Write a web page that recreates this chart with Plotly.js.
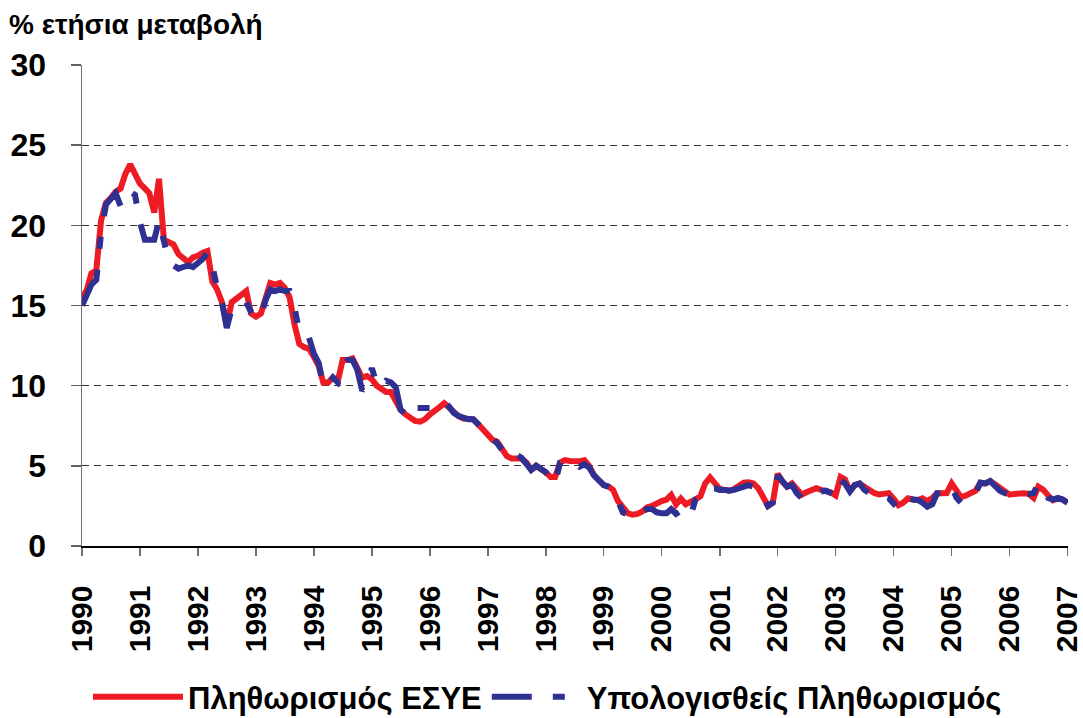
<!DOCTYPE html>
<html>
<head>
<meta charset="utf-8">
<script src="https://cdn.plot.ly/plotly-3.0.1.min.js"></script>
<style>
  html, body { margin: 0; padding: 0; background: #ffffff; }
  #chart { width: 1083px; height: 718px; }
</style>
</head>
<body>
<div id="chart"></div>
<script>
// Monthly series, January 1990 to January 2007 (205 months)
const startYear = 1990;
const monthCount = 205;

// Πληθωρισμός ΕΣΥΕ (% annual change)
const inflationESYE = [
  15.4, 16.0, 17.0, 17.2, 20.3, 21.4, 21.7, 22.1, 22.3, 23.2, 23.8, 23.2,   // 1990
  22.6, 22.3, 22.0, 20.8, 22.9, 19.1, 18.9, 18.8, 18.2, 18.0, 17.7, 18.0,   // 1991
  18.1, 18.3, 18.4, 16.5, 16.0, 15.2, 13.8, 15.2, 15.4, 15.7, 15.9, 14.5,   // 1992
  14.3, 14.5, 15.5, 16.4, 16.3, 16.4, 16.1, 15.5, 13.8, 12.6, 12.4, 12.3,   // 1993
  11.8, 11.2, 10.2, 10.2, 10.5, 10.3, 11.6, 11.6, 11.7, 11.2, 10.5, 10.6,   // 1994
  10.4, 10.0, 9.8, 9.6, 9.6, 9.1, 8.5, 8.2, 8.0, 7.8, 7.75, 7.9,            // 1995
  8.2, 8.4, 8.65, 8.9, 8.6, 8.3, 8.1, 7.95, 7.9, 7.9, 7.6, 7.3,             // 1996
  6.9, 6.6, 6.5, 5.95, 5.6, 5.45, 5.47, 5.45, 5.2, 4.75, 5.0, 4.85,         // 1997
  4.6, 4.3, 4.3, 5.2, 5.36, 5.3, 5.25, 5.28, 5.36, 5.0, 4.4, 4.1,           // 1998
  3.8, 3.7, 3.5, 2.8, 2.35, 2.05, 1.95, 2.0, 2.15, 2.4, 2.5, 2.7,           // 1999
  2.8, 2.9, 3.18, 2.6, 2.95, 2.6, 2.7, 2.9, 3.1, 3.9, 4.28, 3.85,           // 2000
  3.55, 3.5, 3.45, 3.55, 3.8, 3.95, 3.97, 3.9, 3.6, 3.05, 2.5, 2.7,         // 2001
  4.5, 4.0, 3.7, 3.9, 3.6, 3.2, 3.35, 3.45, 3.6, 3.5, 3.45, 3.35,           // 2002
  3.15, 4.3, 4.15, 3.4, 3.8, 3.9, 3.7, 3.45, 3.3, 3.22, 3.3, 3.3,           // 2003
  2.95, 2.55, 2.7, 2.97, 2.9, 2.87, 2.97, 2.8, 3.0, 3.29, 3.29, 3.3,        // 2004
  3.9, 3.5, 3.05, 3.15, 3.3, 3.45, 3.95, 3.9, 4.05, 3.85, 3.65, 3.4,        // 2005
  3.2, 3.25, 3.29, 3.29, 3.25, 3.0, 3.7, 3.5, 3.15, 2.85, 2.97, 2.9,        // 2006
  2.7                                                                       // 2007
];

// Υπολογισθείς Πληθωρισμός (% annual change)
const inflationEstimated = [
  15.0, 15.6, 16.3, 16.6, 19.5, 21.3, 21.6, 22.0, 21.2, 21.9, 22.1, 21.9,   // 1990
  20.2, 19.1, 19.1, 19.1, 20.3, 19.0, 17.8, 17.5, 17.3, 17.4, 17.5, 17.4,   // 1991
  17.6, 17.9, 18.3, 17.5, 16.1, 15.2, 13.6, 14.8, 14.9, 15.1, 15.2, 14.6,   // 1992
  14.2, 14.3, 15.3, 16.0, 15.9, 16.0, 15.9, 15.9, 14.9, 13.3, 13.2, 13.0,   // 1993
  12.0, 11.4, 9.95, 10.1, 10.5, 10.2, 11.0, 11.6, 11.6, 11.0, 9.7, 10.0,    // 1994
  11.1, 10.1, 9.9, 10.3, 10.2, 9.9, 8.5, 8.2, 8.0, 8.6, 8.6, 8.6,           // 1995
  8.6, 8.6, 8.7, 9.0, 8.7, 8.3, 8.1, 7.95, 7.9, 7.9, 7.6, 7.3,              // 1996
  6.9, 6.6, 6.4, 6.0, 5.6, 5.5, 5.7, 5.5, 5.1, 4.75, 5.0, 4.85,             // 1997
  4.6, 4.1, 3.95, 5.2, 5.3, 5.3, 5.2, 4.95, 5.1, 4.9, 4.4, 4.1,             // 1998
  3.8, 3.7, 3.5, 2.8, 2.1, 1.95, 1.8, 2.0, 2.15, 2.3, 2.3, 2.1,             // 1999
  2.05, 2.05, 2.3, 2.0, 2.2, 1.9, 1.85, 2.9, 3.1, 3.4, 3.6, 3.6,            // 2000
  3.5, 3.5, 3.45, 3.5, 3.6, 3.75, 3.8, 3.7, 3.4, 3.05, 2.5, 2.7,            // 2001
  4.4, 4.0, 3.7, 3.8, 3.3, 3.0, 3.0, 3.1, 3.3, 3.4, 3.45, 3.35,             // 2002
  3.15, 4.1, 3.9, 3.4, 3.8, 3.9, 3.5, 3.3, 3.2, 3.0, 3.1, 3.0,              // 2003
  2.7, 2.3, 2.7, 2.97, 2.9, 2.87, 2.7, 2.45, 2.6, 3.29, 3.29, 3.3,          // 2004
  3.7, 3.0, 2.7, 2.9, 3.0, 3.3, 3.95, 3.9, 4.05, 3.75, 3.45, 3.3,           // 2005
  3.2, 3.25, 3.29, 3.29, 3.25, 3.3, 3.9, 3.5, 3.0, 2.9, 3.0, 2.9,           // 2006
  2.7                                                                       // 2007
];

const yearTicks = ['1990','1991','1992','1993','1994','1995','1996','1997','1998',
                   '1999','2000','2001','2002','2003','2004','2005','2006','2007'];

const seriesNames = ['Πληθωρισμός ΕΣΥΕ', 'Υπολογισθείς Πληθωρισμός'];
const yAxisLabel = '% ετήσια μεταβολή';

// month dates (categories)
const months = [];
for (let i = 0; i < monthCount; i++) {
  const y = startYear + Math.floor(i / 12);
  const m = (i % 12) + 1;
  months.push(y + '-' + (m < 10 ? '0' + m : m) + '-01');
}
const tickDates = yearTicks.map(y => y + '-01-01');

const FONT = 'Liberation Sans, Arial, Helvetica, sans-serif';

const traces = [
  {
    x: months, y: inflationESYE, type: 'scatter', mode: 'lines',
    name: seriesNames[0], legendrank: 1,
    line: { color: '#ED1C24', width: 6 },
    hoverinfo: 'skip'
  },
  {
    x: months, y: inflationEstimated, type: 'scatter', mode: 'lines',
    name: seriesNames[1], legendrank: 2,
    line: { color: '#2E3192', width: 6, dash: '40px,21px,12px,21px' },
    hoverinfo: 'skip'
  }
];

const layout = {
  width: 1083, height: 718,
  paper_bgcolor: '#ffffff', plot_bgcolor: '#ffffff',
  margin: { l: 82, r: 15, t: 65, b: 172, pad: 0, autoexpand: false },
  title: {
    text: yAxisLabel,
    x: 9 / 1083, xanchor: 'left', xref: 'container',
    y: 1 - 24 / 718, yanchor: 'middle', yref: 'container',
    font: { family: FONT, size: 28, weight: 'bold', color: '#000' }
  },
  xaxis: {
    type: 'date',
    range: ['1990-01-01', '2007-01-04'],
    tickmode: 'array', tickvals: tickDates, ticktext: yearTicks,
    tickangle: -90,
    ticks: 'outside', ticklen: 8, tickwidth: 1.5, tickcolor: '#707070',
    ticklabelstandoff: 18, ticklabeloverflow: 'allow',
    tickfont: { family: FONT, size: 30, weight: 'bold', color: '#000' },
    showline: true, linecolor: '#000', linewidth: 1.5,
    showgrid: false, zeroline: false, fixedrange: true, automargin: false
  },
  yaxis: {
    range: [0, 30], tickmode: 'linear', tick0: 0, dtick: 5,
    ticks: 'outside', ticklen: 10, tickwidth: 1.5, tickcolor: '#606060',
    ticklabelstandoff: 18,
    tickfont: { family: FONT, size: 32, weight: 'bold', color: '#000' },
    showline: true, linecolor: '#707070', linewidth: 1.5,
    showgrid: true, gridcolor: '#333333', gridwidth: 1, griddash: '7px,5px',
    zeroline: false, fixedrange: true, automargin: false
  },
  showlegend: true,
  legend: {
    orientation: 'h',
    x: 6 / 986, xanchor: 'left',
    y: (546 - 697) / 481, yanchor: 'middle',
    itemwidth: 90,
    font: { family: FONT, size: 31, weight: 'bold', color: '#000' },
    bgcolor: 'rgba(0,0,0,0)', traceorder: 'normal'
  }
};

Plotly.newPlot('chart', traces, layout, { displayModeBar: false, staticPlot: true });
</script>
</body>
</html>
